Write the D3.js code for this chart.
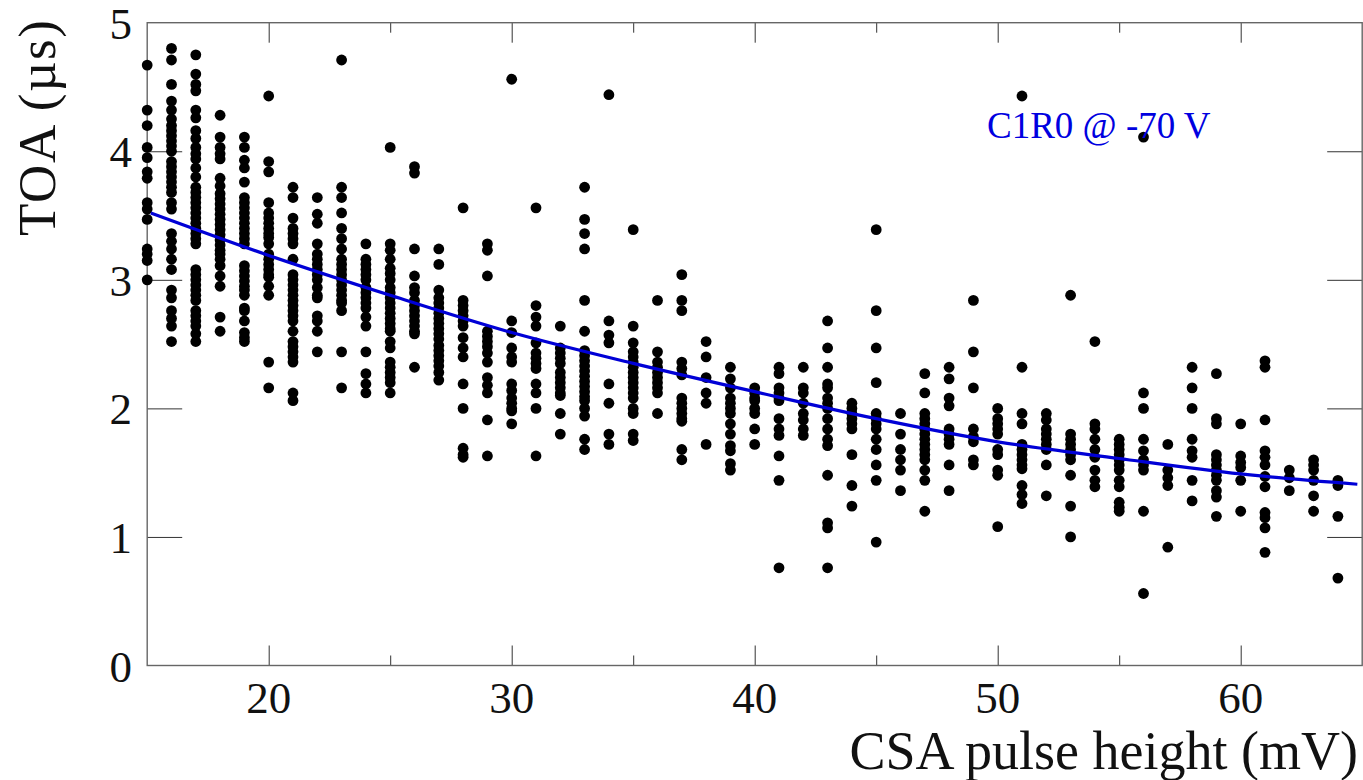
<!DOCTYPE html>
<html><head><meta charset="utf-8">
<script src="https://cdn.jsdelivr.net/npm/d3@7"></script>
<style>html,body{margin:0;padding:0;background:#fff}svg{display:block}text{font-family:"Liberation Serif",serif;fill:#111}</style>
</head><body><svg id="c" width="1363" height="780"></svg>
<script>
const xTickValues=[20,30,40,50,60];
const xMinorValues=[25,35,45,55];
const yTickValues=[0,1,2,3,4,5];
const annotation="C1R0 @ -70 V";
const xTitle="CSA pulse height (mV)";
const yTitle="TOA (µs)";
const fitX=[15.15,20,25,30,35,40,45,50,55,60,64.8];
const fitY=[3.52,3.19,2.88,2.59,2.35,2.13,1.92,1.74,1.61,1.49,1.41];
const toa15=[4.67,4.32,4.2,4.03,3.95,3.84,3.79,3.6,3.55,3.47,3.24,3.2,3.15,3.0];
const toa16=[4.8,4.71,4.52,4.39,4.32,4.25,4.2,4.16,4.12,4.08,4.04,4.0,3.92,3.88,3.84,3.8,3.76,3.72,3.68,3.6,3.55,3.36,3.3,3.24,3.16,3.08,2.92,2.86,2.76,2.7,2.64,2.52];
const toa17=[4.75,4.6,4.52,4.47,4.32,4.26,4.16,4.1,4.03,3.98,3.94,3.87,3.8,3.72,3.68,3.64,3.6,3.56,3.52,3.48,3.44,3.4,3.36,3.32,3.28,3.08,3.04,3.0,2.96,2.92,2.88,2.84,2.76,2.72,2.68,2.64,2.58,2.52];
const toa18=[4.28,4.11,4.03,3.98,3.94,3.79,3.73,3.67,3.63,3.59,3.55,3.51,3.47,3.43,3.39,3.35,3.31,3.27,3.23,3.2,3.16,3.11,3.03,2.95,2.71,2.6];
const toa19=[4.11,4.03,3.93,3.87,3.76,3.64,3.6,3.56,3.52,3.48,3.44,3.4,3.36,3.32,3.28,3.11,3.07,3.03,2.99,2.95,2.92,2.88,2.78,2.76,2.68,2.59,2.55,2.52];
const toa20=[4.43,3.92,3.84,3.6,3.52,3.48,3.44,3.4,3.36,3.33,3.28,3.2,3.16,3.12,3.08,3.04,3.02,2.95,2.88,2.36,2.16];
const toa21=[3.72,3.64,3.48,3.4,3.36,3.32,3.28,3.16,3.04,3.0,2.96,2.92,2.88,2.84,2.8,2.76,2.72,2.68,2.6,2.52,2.48,2.44,2.4,2.36,2.12,2.06];
const toa22=[3.64,3.51,3.44,3.28,3.2,3.16,3.12,3.08,3.04,3.0,2.94,2.88,2.86,2.72,2.68,2.6,2.44];
const toa23=[4.71,3.72,3.64,3.52,3.4,3.32,3.24,3.16,3.12,3.08,3.04,3.0,2.96,2.92,2.88,2.84,2.82,2.76,2.44,2.16];
const toa24=[3.28,3.16,3.12,3.08,3.04,3.0,2.94,2.9,2.86,2.82,2.78,2.71,2.64,2.44,2.27,2.19,2.12];
const toa25=[4.03,3.28,3.23,3.16,3.09,3.05,3.0,2.94,2.9,2.86,2.82,2.78,2.74,2.7,2.66,2.62,2.6,2.52,2.47,2.36,2.32,2.28,2.24,2.2,2.12];
const toa26=[3.88,3.83,3.24,3.03,2.94,2.9,2.84,2.8,2.76,2.72,2.68,2.64,2.6,2.58,2.32];
const toa27=[3.24,3.12,2.92,2.86,2.82,2.78,2.74,2.7,2.66,2.62,2.58,2.54,2.49,2.45,2.41,2.37,2.33,2.28,2.22];
const toa28=[3.56,2.84,2.8,2.76,2.72,2.68,2.64,2.55,2.47,2.4,2.19,2.0,1.69,1.64,1.62];
const toa29=[3.28,3.23,3.03,2.6,2.56,2.52,2.48,2.43,2.36,2.24,2.18,2.12,1.91,1.63];
const toa30=[4.56,2.68,2.59,2.47,2.4,2.36,2.19,2.14,2.08,2.04,2.0,1.98,1.88];
const toa31=[3.56,2.8,2.71,2.64,2.51,2.43,2.39,2.35,2.31,2.19,2.12,2.0,1.63];
const toa32=[2.64,2.47,2.43,2.39,2.35,2.28,2.24,2.2,2.16,2.12,2.1,1.96,1.8];
const toa33=[3.72,3.47,3.36,3.24,2.84,2.6,2.45,2.41,2.37,2.33,2.29,2.25,2.21,2.17,2.13,2.09,2.06,2.0,1.94,1.76,1.68];
const toa34=[4.44,2.68,2.57,2.51,2.19,2.04,1.8,1.72];
const toa35=[3.39,2.64,2.51,2.44,2.4,2.36,2.32,2.28,2.24,2.2,2.16,2.12,2.08,2.0,1.96,1.8,1.75];
const toa36=[2.84,2.44,2.36,2.32,2.28,2.24,2.2,2.16,2.12,1.96];
const toa37=[3.04,2.84,2.76,2.36,2.31,2.26,2.08,2.04,2.0,1.96,1.92,1.9,1.68,1.6];
const toa38=[2.52,2.4,2.24,2.12,2.04,1.72];
const toa39=[2.32,2.23,2.16,2.08,2.04,2.0,1.96,1.88,1.8,1.71,1.67,1.57,1.52];
const toa40=[2.16,2.12,2.08,2.06,2.0,1.96,1.84,1.72];
const toa41=[2.32,2.27,2.16,2.12,2.08,2.06,1.92,1.84,1.79,1.63,1.44,0.76];
const toa42=[2.32,2.16,2.12,2.04,1.96,1.91,1.84,1.79];
const toa43=[2.68,2.47,2.32,2.19,2.16,2.08,2.04,2.0,1.92,1.84,1.76,1.71,1.48,1.11,1.07,0.76];
const toa44=[2.04,2.0,1.96,1.92,1.88,1.84,1.64,1.4,1.24];
const toa45=[3.39,2.76,2.47,2.2,1.96,1.92,1.88,1.84,1.76,1.68,1.56,1.44,0.96];
const toa46=[1.96,1.8,1.68,1.6,1.52,1.36];
const toa47=[2.27,2.12,1.96,1.92,1.88,1.84,1.8,1.76,1.72,1.68,1.64,1.6,1.52,1.44,1.2];
const toa48=[2.32,2.23,2.08,2.02,1.84,1.8,1.76,1.72,1.56,1.36];
const toa49=[2.84,2.44,2.16,1.84,1.78,1.74,1.6,1.56];
const toa50=[2.0,1.92,1.88,1.84,1.8,1.68,1.64,1.52,1.48,1.08];
const toa51=[4.43,2.32,1.96,1.88,1.72,1.68,1.64,1.6,1.56,1.53,1.4,1.33,1.26];
const toa52=[1.96,1.91,1.84,1.8,1.76,1.72,1.68,1.56,1.32];
const toa53=[2.88,1.8,1.76,1.72,1.68,1.64,1.6,1.48,1.24,1.0];
const toa54=[2.52,1.88,1.84,1.76,1.68,1.62,1.52,1.44,1.39];
const toa55=[1.76,1.72,1.68,1.64,1.6,1.56,1.52,1.44,1.39,1.27,1.23,1.2];
const toa56=[4.11,2.12,2.0,1.76,1.67,1.6,1.56,1.52,1.2,0.56];
const toa57=[1.72,1.52,1.46,1.4,0.92];
const toa58=[2.32,2.16,2.0,1.76,1.67,1.62,1.44,1.28];
const toa59=[2.27,1.92,1.88,1.64,1.6,1.56,1.52,1.48,1.44,1.36,1.31,1.16];
const toa60=[1.88,1.63,1.58,1.54,1.44,1.2];
const toa61=[2.37,2.32,1.91,1.67,1.62,1.56,1.47,1.39,1.19,1.15,1.07,0.88];
const toa62=[1.52,1.46,1.36];
const toa63=[1.6,1.56,1.52,1.44,1.32,1.2];
const toa64=[1.44,1.4,1.16,0.68];
const toaColumns=[toa15,toa16,toa17,toa18,toa19,toa20,toa21,toa22,toa23,toa24,toa25,toa26,toa27,toa28,toa29,toa30,toa31,toa32,toa33,toa34,toa35,toa36,toa37,toa38,toa39,toa40,toa41,toa42,toa43,toa44,toa45,toa46,toa47,toa48,toa49,toa50,toa51,toa52,toa53,toa54,toa55,toa56,toa57,toa58,toa59,toa60,toa61,toa62,toa63,toa64];
const firstPulse=15;

const svg=d3.select("#c");
const L=147.2,R=1362.2,T=22.7,B=665.5;
const x=d3.scaleLinear().domain([15,65]).range([L,R]);
const y=d3.scaleLinear().domain([0,5]).range([B,T]);
const frameColor="#666",tickColor="#333";

function ticks(axis,vals,size,sel){
  const g=svg.append("g").attr("transform",sel).call(axis.tickValues(vals).tickSize(size).tickFormat(""));
  g.select(".domain").remove();
  g.selectAll("line").attr("stroke",tickColor).attr("stroke-width",1);
}
ticks(d3.axisTop(x),xTickValues,20,`translate(0,${B})`);
ticks(d3.axisTop(x),xMinorValues,10,`translate(0,${B})`);
ticks(d3.axisBottom(x),xTickValues,20,`translate(0,${T})`);
ticks(d3.axisBottom(x),xMinorValues,10,`translate(0,${T})`);
ticks(d3.axisRight(y),yTickValues.slice(1,-1),35,`translate(${L},0)`);
ticks(d3.axisLeft(y),yTickValues.slice(1,-1),35,`translate(${R},0)`);
svg.append("rect").attr("x",L).attr("y",T).attr("width",R-L).attr("height",B-T)
  .attr("fill","none").attr("stroke",frameColor).attr("stroke-width",1.4);

const points=toaColumns.flatMap((col,i)=>col.map(v=>({p:firstPulse+i,v})));
svg.append("g").selectAll("circle").data(points).join("circle")
  .attr("cx",d=>x(d.p)).attr("cy",d=>y(d.v)).attr("r",5.4).attr("fill","#000");

svg.append("path").attr("d",d3.line().x(d=>x(d[0])).y(d=>y(d[1])).curve(d3.curveCatmullRom)(fitX.map((v,i)=>[v,fitY[i]])))
  .attr("fill","none").attr("stroke","#0000d6").attr("stroke-width",3.2);

svg.append("g").selectAll("text").data(xTickValues).join("text")
  .attr("x",d=>x(d)).attr("y",713).attr("text-anchor","middle").attr("font-size",45).text(d=>d);
svg.append("g").selectAll("text").data(yTickValues).join("text")
  .attr("x",132).attr("y",d=>y(d)+16).attr("text-anchor","end").attr("font-size",45).text(d=>d);
svg.append("text").attr("x",1358).attr("y",769).attr("text-anchor","end").attr("font-size",54).text(xTitle);
svg.append("text").attr("transform","translate(55,236) rotate(-90)").attr("text-anchor","start").attr("font-size",53).attr("letter-spacing",1.6).text(yTitle);
svg.append("text").attr("x",987).attr("y",138).attr("font-size",37).style("fill","#0000e0").text(annotation);
</script></body></html>
